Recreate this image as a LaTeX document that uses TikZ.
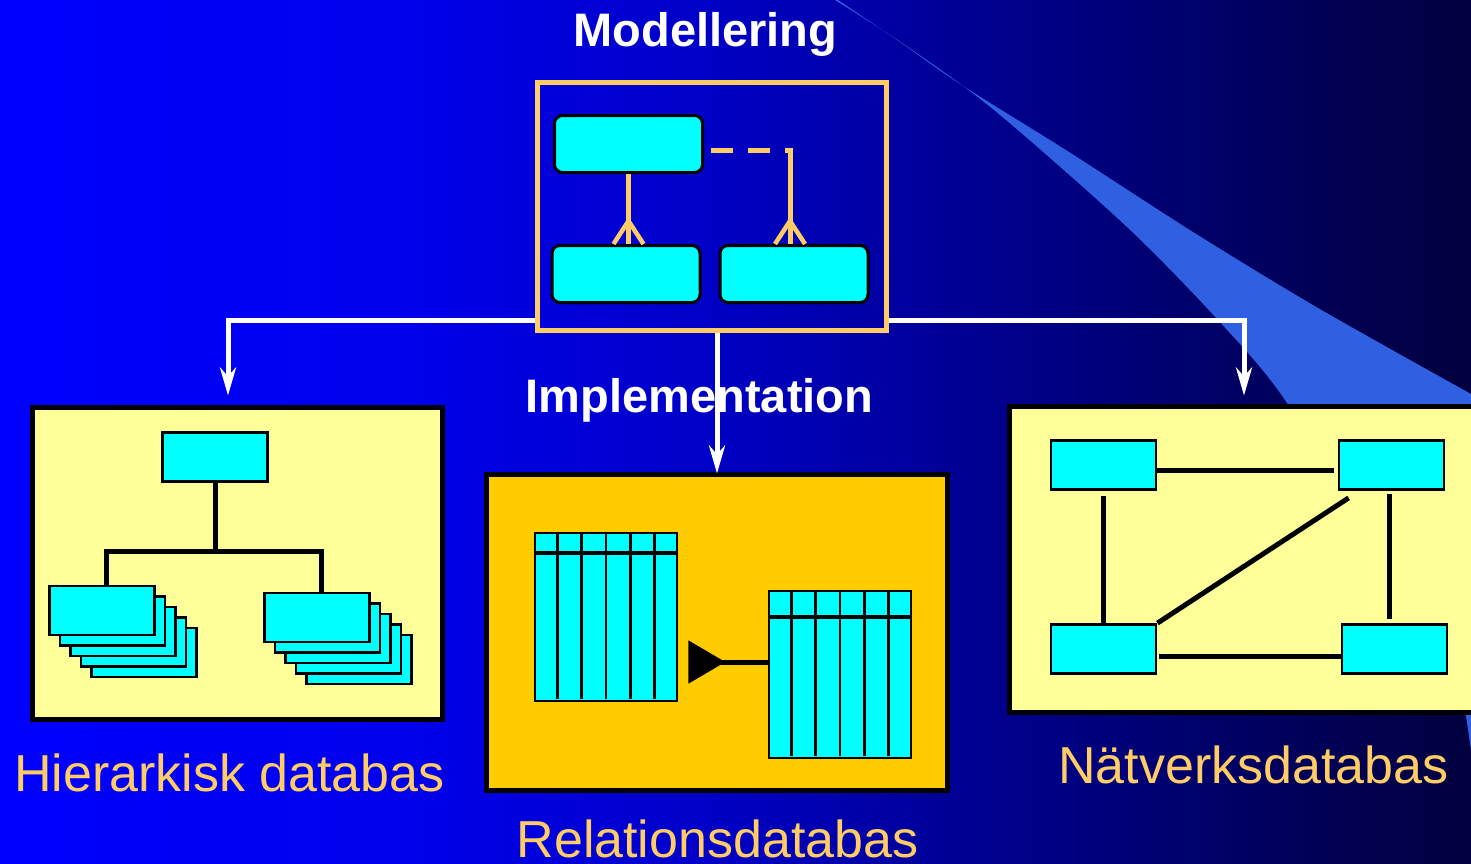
\documentclass[tikz,border=0pt]{standalone}
\usepackage{fontspec}
\setmainfont{Liberation Sans}
\usetikzlibrary{arrows.meta,positioning,calc}
\definecolor{bgA}{RGB}{0,0,255}
\definecolor{bgB}{RGB}{0,0,236}
\definecolor{bgC}{RGB}{0,0,200}
\definecolor{bgD}{RGB}{0,0,150}
\definecolor{bgE}{RGB}{0,0,105}
\definecolor{bgF}{RGB}{2,0,62}
\definecolor{dbswoosh}{RGB}{48,96,226}
\definecolor{dbcyan}{RGB}{0,255,255}
\definecolor{dbyellow}{RGB}{255,255,153}
\definecolor{dbgold}{RGB}{255,204,0}
\definecolor{dborange}{RGB}{255,204,102}
\pgfdeclarehorizontalshading{slidebg}{100bp}{color(0bp)=(bgA); color(25bp)=(bgA);
  color(38.6bp)=(bgB); color(48.8bp)=(bgC); color(57.3bp)=(bgD); color(65.8bp)=(bgE);
  color(75bp)=(bgF); color(100bp)=(bgF)}

\tikzset{
  title/.style={white,font=\fontsize{47}{50}\selectfont\bfseries,anchor=base,inner sep=0pt},
  dblabel/.style={dborange,font=\fontsize{52}{56}\selectfont,anchor=base,inner sep=0pt},
  entity/.style={draw=black,fill=dbcyan,line width=3pt,rounded corners=8pt,
    minimum width=148pt,minimum height=57pt,inner sep=0pt},
  dbbox/.style={draw=black,line width=5pt,inner sep=0pt},
  rec/.style={draw=black,fill=dbcyan,line width=2.8pt,minimum width=105pt,
    minimum height=49pt,inner sep=0pt},
  tbl/.style={draw=black,fill=dbcyan,line width=2.8pt,minimum width=142pt,inner sep=0pt},
  wline/.style={white,line width=5pt,-{Stealth[length=28pt,width=16pt,inset=9pt]}},
  oline/.style={dborange,line width=5pt},
  bline/.style={black,line width=5pt},
}

% crow's foot just above an entity (#1 = the point on its top edge)
\newcommand{\crowfoot}[1]{%
  \coordinate (cfoot) at (#1);
  \draw[oline,line width=4.5pt] ([yshift=23pt]cfoot) -- ++(-15,23) ([yshift=23pt]cfoot) -- ++(15,23);}
% header and columns of a table node (#1 = node, #2 = header height)
\newcommand{\tablecols}[2]{%
  \draw[black,line width=4pt] ([yshift=-#2]#1.north west) -- ([yshift=-#2]#1.north east);
  \foreach \c in {1,...,5}
    \draw[black,line width=2.8pt,shorten >=3pt]
      ($(#1.north west)!\c/6!(#1.north east)$) -- ($(#1.south west)!\c/6!(#1.south east)$);}

\begin{document}
\begin{tikzpicture}[x=1pt,y=-1pt]
  \useasboundingbox (0,0) rectangle (1471,863);
  % background and swoosh
  \shade[shading=slidebg] (0,0) rectangle (1471,863);
  \fill[dbswoosh] plot[smooth] coordinates {(838,0) (900,42) (960,84) (1069,152) (1193,232)
      (1318,308) (1471,394)}
    -- (1471,750)
    -- plot[smooth] coordinates {(1466,716) (1380,555) (1285,400) (1218,320) (1127,227)
      (994,110) (905,45) (835,0)} -- cycle;

  % titles
  \node[title] (tmod) at (705.5,46) {Modellering};
  \node[title] (timpl) at (699.5,412) {Implementation};

  % modelling box
  \node[draw=dborange,line width=5pt,minimum width=349pt,minimum height=248pt,inner sep=0pt]
    (modbox) at (712,206.5) {};
  \node[entity] (mtop) at (628.5,144) {};
  \node[entity] (mleft) at (626,274) {};
  \node[entity] (mright) at (794,274) {};
  \coordinate (mbend) at (790,150);
  \draw[oline] (mtop.south) -- (mtop.south |- mleft.north);
  \crowfoot{mtop.south |- mleft.north}
  \draw[oline,dash pattern=on 22pt off 15pt,shorten <=7pt] (mtop.east |- mbend) -- (mbend);
  \draw[oline] ([yshift=2.5pt]mbend) -- (mbend |- mright.north);
  \crowfoot{mbend |- mright.north}

  % database boxes
  \node[dbbox,fill=dbyellow,minimum width=410pt,minimum height=312pt] (hierbox) at (237.5,563.5) {};
  \node[dbbox,fill=dbgold,minimum width=461pt,minimum height=316pt] (relbox) at (717,632.5) {};
  \node[dbbox,fill=dbyellow,minimum width=488pt,minimum height=306pt] (netbox) at (1253.5,559.5) {};

  % implementation arrows
  \draw[wline,shorten >=9.5pt] (modbox.west |- 0,320) -| ([xshift=-9.5pt]hierbox.north);
  \draw[wline,shorten >=8.5pt] (modbox.east |- 0,320) -| ([xshift=-9.5pt]netbox.north);
  \draw[wline,shorten >=-1.5pt] (modbox.south -| relbox.north) -- (relbox.north);

  % hierarchical database
  \node[rec] (hroot) at (215,457) {};
  \foreach \k in {4,3,2,1} {
    \node[rec] at (102+10.5*\k,610.5+10.5*\k) {};
    \node[rec] at (317+10.5*\k,617.5+10.5*\k) {};
  }
  \node[rec] (hleft) at (102,610.5) {};
  \node[rec] (hright) at (317,617.5) {};
  \coordinate (hjoin) at (hroot.south |- 0,551);
  \draw[bline] (hroot.south) -- (hjoin);
  \draw[bline] ([xshift=4pt]hleft.north) |- (hjoin) -| ([xshift=4pt]hright.north);

  % relational database
  \node[tbl,minimum height=168pt] (ltab) at (606,617) {};
  \node[tbl,minimum height=167pt] (rtab) at (840,674.5) {};
  \tablecols{ltab}{21pt}
  \tablecols{rtab}{27pt}
  \draw[bline,shorten >=10pt,-{Triangle[reversed,length=37pt,width=42pt]}]
    (rtab.west |- 0,662) -- (ltab.east |- 0,662);

  % network database
  \node[rec] (ntl) at (1103.5,465) {};
  \node[rec] (ntr) at (1391.5,465) {};
  \node[rec] (nbl) at (1103.5,649) {};
  \node[rec] (nbr) at (1394.5,649) {};
  \draw[bline,shorten >=4pt] ([yshift=-5pt]ntl.east) -- ([yshift=-5pt]ntl.east -| ntr.west);
  \draw[bline,shorten <=5pt] (ntl.south) -- (nbl.north);
  \draw[bline,shorten <=3pt,shorten >=4pt] ([xshift=-2.5pt]ntr.south) -- ([xshift=-2.5pt]ntr.south |- nbr.north);
  \draw[bline,shorten <=2pt] ([yshift=-7pt]nbl.east) -- ([yshift=-7pt]nbl.east -| nbr.west);
  \draw[bline] (nbl.north east) -- ([shift={(11pt,-7pt)}]ntr.south west);

  % labels
  \node[dblabel] (lhier) at (229.5,791) {Hierarkisk databas};
  \node[dblabel] (lrel) at (717.5,857) {Relationsdatabas};
  \node[dblabel] (lnet) at (1253.5,783) {Nätverksdatabas};
\end{tikzpicture}
\end{document}
